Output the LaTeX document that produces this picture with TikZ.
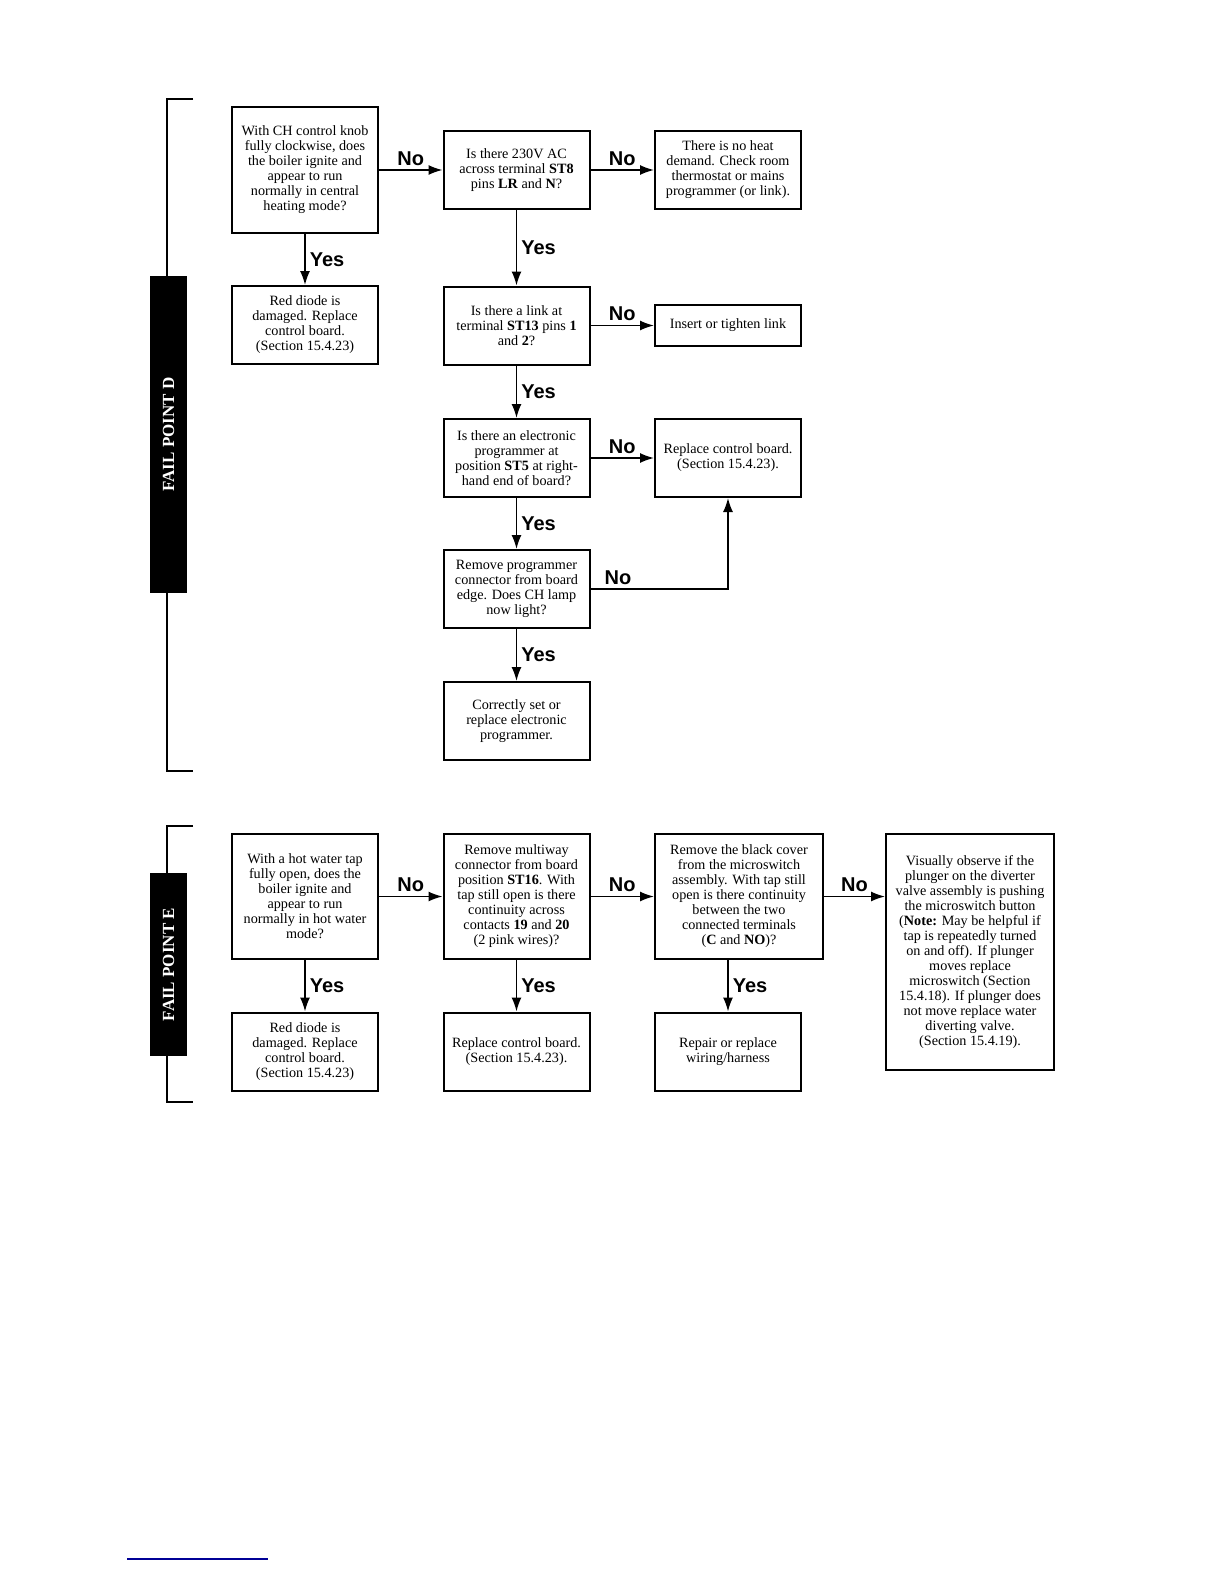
\documentclass[tikz,border=0pt]{standalone}
\usepackage{fontspec}
\setmainfont{Liberation Serif}
\setsansfont{Liberation Sans}
\usetikzlibrary{arrows.meta}
\tikzset{
  box/.style={draw, line width=1pt, align=center, inner sep=1pt,
    font=\fontsize{7.1}{7.5}\selectfont,
    minimum width=73pt, minimum height=39pt},
  arr/.style={-{Latex[length=7pt,width=5pt]}, line width=0.8pt},
  lbl/.style={font=\sffamily\bfseries\fontsize{10}{12}\selectfont, inner sep=2pt},
  bracket/.style={line width=1pt},
  failbox/.style={fill=black, text=white, rotate=90, inner sep=0pt,
    minimum height=18.5pt, font=\bfseries\fontsize{8.5}{10}\selectfont}
}
\begin{document}
\begin{tikzpicture}[x=0.5pt,y=-0.5pt]
  \useasboundingbox (0,0) rectangle (1224,1584);

  % Fail point D
  \draw[bracket] (193,99) -- (167,99) -- (167,771) -- (193,771);
  \node[failbox, minimum width=158.5pt] (fpD) at (168.5,434.5) {FAIL POINT D};

  \node[box, minimum height=63pt] (A1) at (305,170)
    {With CH control knob\\fully clockwise, does\\the boiler ignite and\\appear to run\\normally in central\\heating mode?};
  \node[box] (A2) at (305,325)
    {Red diode is\\damaged. Replace\\control board.\\(Section 15.4.23)};
  \node[box] (B1) at (516.5,170)
    {Is there 230V AC\\across terminal \textbf{ST8}\\pins \textbf{LR} and \textbf{N}?};
  \node[box] (C1) at (728,170)
    {There is no heat\\demand. Check room\\thermostat or mains\\programmer (or link).};
  \node[box] (B2) at (516.5,325.5)
    {Is there a link at\\terminal \textbf{ST13} pins \textbf{1}\\and \textbf{2}?};
  \node[box, minimum height=20.5pt] (C2) at (728,325.5) {Insert or tighten link};
  \node[box] (B3) at (516.5,458)
    {Is there an electronic\\programmer at\\position \textbf{ST5} at right-\\hand end of board?};
  \node[box] (C3) at (728,458)
    {Replace control board.\\(Section 15.4.23).};
  \node[box] (B4) at (516.5,589)
    {Remove programmer\\connector from board\\edge. Does CH lamp\\now light?};
  \node[box] (B5) at (516.5,721)
    {Correctly set or\\replace electronic\\programmer.};

  \draw[arr] (A1) -- node[lbl, above] (nA1) {No} (B1);
  \draw[arr] (B1) -- node[lbl, above] (nB1) {No} (C1);
  \draw[arr] (B2) -- node[lbl, above] (nB2) {No} (C2);
  \draw[arr] (B3) -- node[lbl, above] (nB3) {No} (C3);
  \draw[arr] (B4.east) -| node[lbl, above, pos=0.1] (nB4) {No} (C3.south);
  \draw[arr] (A1) -- node[lbl, right] (yA1) {Yes} (A2);
  \draw[arr] (B1) -- node[lbl, right] (yB1) {Yes} (B2);
  \draw[arr] (B2) -- node[lbl, right] (yB2) {Yes} (B3);
  \draw[arr] (B3) -- node[lbl, right] (yB3) {Yes} (B4);
  \draw[arr] (B4) -- node[lbl, right] (yB4) {Yes} (B5);

  % Fail point E
  \draw[bracket] (193,826) -- (167,826) -- (167,1102) -- (193,1102);
  \node[failbox, minimum width=91.5pt] (fpE) at (168.5,964.5) {FAIL POINT E};

  \node[box, minimum height=62.5pt] (E1) at (305,896.5)
    {With a hot water tap\\fully open, does the\\boiler ignite and\\appear to run\\normally in hot water\\mode?};
  \node[box] (E2) at (305,1051.5)
    {Red diode is\\damaged. Replace\\control board.\\(Section 15.4.23)};
  \node[box, minimum height=62.5pt] (F1) at (516.5,896.5)
    {Remove multiway\\connector from board\\position \textbf{ST16}. With\\tap still open is there\\continuity across\\contacts \textbf{19} and \textbf{20}\\(2 pink wires)?};
  \node[box] (F2) at (516.5,1051.5)
    {Replace control board.\\(Section 15.4.23).};
  \node[box, minimum width=84pt, minimum height=62.5pt] (G1) at (739,896.5)
    {Remove the black cover\\from the microswitch\\assembly. With tap still\\open is there continuity\\between the two\\connected terminals\\(\textbf{C} and \textbf{NO})?};
  \node[box] (G2) at (728,1051.5)
    {Repair or replace\\wiring/harness};
  \node[box, minimum width=84pt, minimum height=118pt] (H1) at (970,952)
    {Visually observe if the\\plunger on the diverter\\valve assembly is pushing\\the microswitch button\\(\textbf{Note:} May be helpful if\\tap is repeatedly turned\\on and off). If plunger\\moves replace\\microswitch (Section\\15.4.18). If plunger does\\not move replace water\\diverting valve.\\(Section 15.4.19).};

  \draw[arr] (E1) -- node[lbl, above] (nE1) {No} (F1);
  \draw[arr] (F1) -- node[lbl, above] (nF1) {No} (G1);
  \draw[arr] (G1.east) -- node[lbl, above] (nG1) {No} (G1.east -| H1.west);
  \draw[arr] (E1) -- node[lbl, right] (yE1) {Yes} (E2);
  \draw[arr] (F1) -- node[lbl, right] (yF1) {Yes} (F2);
  \draw[arr] (G1.south -| G2.north) -- node[lbl, right] (yG1) {Yes} (G2.north);

  % footnote rule
  \draw[line width=0.75pt, color={rgb,255:red,0;green,0;blue,150}] (127,1559) -- (268,1559);
\end{tikzpicture}
\end{document}
